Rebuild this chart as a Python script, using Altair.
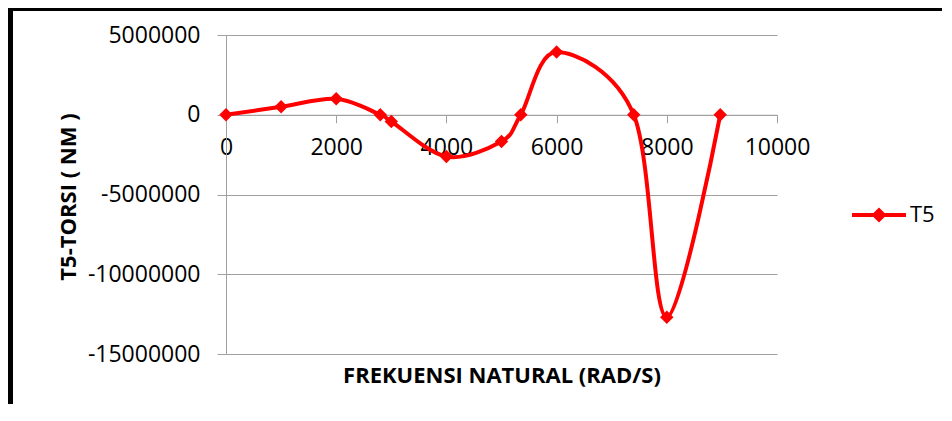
import altair as alt
import pandas as pd

# ---- data ----
freq = [0, 1000, 2000, 2800, 3000, 4000, 5000, 5350, 6000, 7400, 8000, 8970]
torsi = [0, 500000, 1000000, 0, -420000, -2620000, -1680000, 0, 3930000, 0, -12700000, 0]
series = ["T5"] * len(freq)
x_ticks = [0, 2000, 4000, 6000, 8000, 10000]
y_ticks = [5000000, 0, -5000000, -10000000, -15000000]
x_title = "FREKUENSI NATURAL (RAD/S)"
y_title = "T5-TORSI ( NM )"

df = pd.DataFrame({"freq": freq, "torsi": torsi, "series": series})

W, H = 551, 319
PL, PT, PR, PB = 218, 27, 165, 50
y_min, y_max = -15000000, 5000000
zero_px = H * (y_max - 0) / (y_max - y_min)

RED = "#FF0000"
GRAY = "#A0A0A0"
FONT = "Open Sans"

x_enc = alt.X(
    "freq:Q",
    scale=alt.Scale(domain=[0, 10000], nice=False, zero=False),
    axis=alt.Axis(
        values=x_ticks,
        labelExpr="toString(datum.value)",
        labelFlush=False,
        labelOverlap=False,
        title=x_title,
        offset=zero_px - H,
        grid=False,
        tickSize=8,
        labelPadding=14,
        titleY=261,
        titleBaseline="middle",
    ),
)
y_enc = alt.Y(
    "torsi:Q",
    scale=alt.Scale(domain=[y_min, y_max], nice=False, zero=False),
    axis=alt.Axis(
        values=y_ticks,
        labelExpr="toString(datum.value)",
        labelFlush=False,
        labelOverlap=False,
        title=y_title,
        grid=True,
        tickSize=9,
        labelPadding=17,
        titleX=-158,
        titleY=H / 2 + 2,
        titleBaseline="middle",
        titleAngle=270,
    ),
)

base = alt.Chart(df)

line = base.mark_line(color=RED, strokeWidth=4, interpolate="cardinal").encode(
    x=x_enc, y=y_enc
)

legend_path = (
    "M-1,-0.074L1,-0.074L1,0.074L-1,0.074Z"
    "M0,-0.28L0.28,0L0,0.28L-0.28,0Z"
)

points = base.mark_point(shape="diamond", filled=True, size=180, opacity=1).encode(
    x="freq:Q",
    y="torsi:Q",
    color=alt.Color(
        "series:N",
        scale=alt.Scale(range=[RED]),
        legend=alt.Legend(
            title=None,
            orient="none",
            legendX=626,
            legendY=153,
            symbolType=legend_path,
            symbolSize=2916,
            symbolStrokeWidth=0,
            symbolOpacity=1,
            labelFont=FONT,
            labelFontSize=22,
            labelColor="black",
            labelOffset=4,
            padding=0,
        ),
    ),
)

one = pd.DataFrame({"a": [0]})
frame_left = alt.Chart(one).mark_rule(color="black", strokeWidth=5).encode(
    x=alt.value(-PL + 2.5), y=alt.value(-PT), y2=alt.value(H + PB)
)
frame_top = alt.Chart(one).mark_rule(color="black", strokeWidth=3).encode(
    x=alt.value(-PL), x2=alt.value(W + PR), y=alt.value(-PT + 1.5)
)

chart = (
    alt.layer(line, points, frame_left, frame_top)
    .properties(
        width=W,
        height=H,
        background="white",
        autosize=alt.AutoSizeParams(type="none"),
        padding={"left": PL, "top": PT, "right": PR, "bottom": PB},
    )
    .configure_view(stroke=None)
    .configure_axis(
        labelFont=FONT,
        labelFontSize=23,
        labelColor="black",
        titleFont=FONT,
        titleFontSize=22,
        titleFontWeight="bold",
        titleColor="black",
        domainColor=GRAY,
        tickColor=GRAY,
        gridColor=GRAY,
        domainWidth=1,
        tickWidth=1,
        gridWidth=1,
    )
)

chart.save("out.html", embed_options={"renderer": "svg", "actions": False})
